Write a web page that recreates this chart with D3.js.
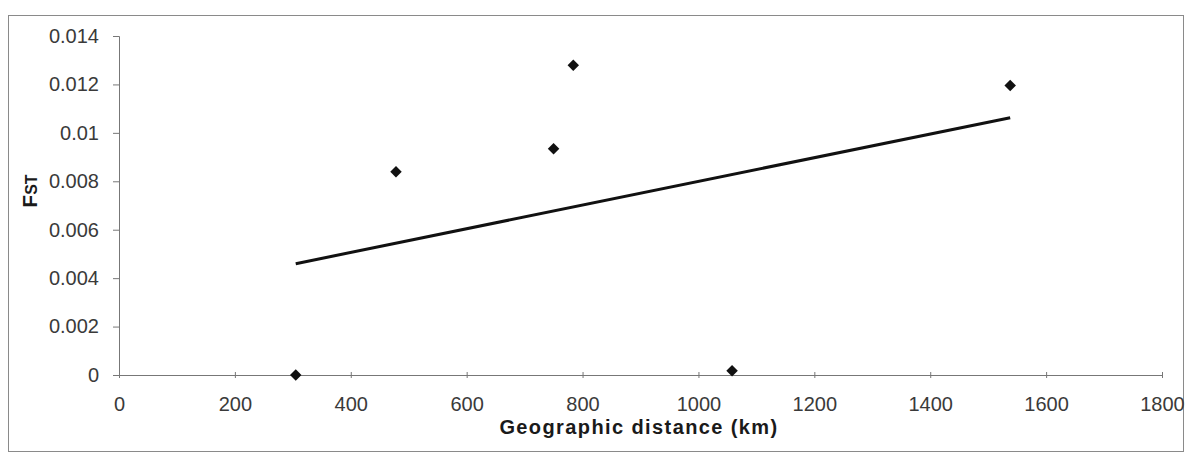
<!DOCTYPE html>
<html>
<head>
<meta charset="utf-8">
<script src="https://cdn.jsdelivr.net/npm/d3@7"></script>
<style>
  body { margin: 0; background: #fff; }
  svg text { font-family: "Liberation Sans", Arial, sans-serif; }
</style>
</head>
<body>
<script>
// distance (km) vs FST
var distances = [305, 478, 750, 784, 1058, 1538];
var fstValues = [0, 0.00839, 0.00934, 0.01279, 0.00018, 0.01196];
var xTicks = [0, 200, 400, 600, 800, 1000, 1200, 1400, 1600, 1800];
var yTicks = [0, 0.002, 0.004, 0.006, 0.008, 0.01, 0.012, 0.014];

var width = 1193,
    height = 453;

var svg = d3.select("body").append("svg")
            .attr("width", width)
            .attr("height", height);

// outer chart frame
svg.append("rect")
   .attr("x", 8.5).attr("y", 15.5)
   .attr("width", 1175).attr("height", 436)
   .attr("fill", "none")
   .attr("stroke", "#8a8a8a")
   .attr("stroke-width", 1);

var x = d3.scaleLinear().domain([0, 1800]).range([119, 1162]);
var y = d3.scaleLinear().domain([0, 0.014]).range([375, 36]);

// y axis
var yAxis = svg.append("g")
   .attr("transform", "translate(" + x(0) + ",0)")
   .call(d3.axisLeft(y).tickValues(yTicks).tickSize(6).tickPadding(14)
          .tickFormat(function(d) { return d === 0 ? "0" : String(+d.toFixed(3)); }));
yAxis.select(".domain").attr("stroke", "#777");
yAxis.selectAll(".tick line").attr("stroke", "#777");
yAxis.selectAll(".tick text")
     .attr("font-size", 20).attr("fill", "#3a3a3a")
     .style("font-family", "Liberation Sans, Arial, sans-serif");

// x axis
var xAxis = svg.append("g")
   .attr("transform", "translate(0," + y(0) + ")")
   .call(d3.axisBottom(x).tickValues(xTicks).tickFormat(d3.format("d"))
          .tickSizeInner(4).tickSizeOuter(0).tickPadding(18));
xAxis.select(".domain").attr("stroke", "#777");
xAxis.selectAll(".tick line").attr("stroke", "#777").attr("y1", -3).attr("y2", 3);
xAxis.selectAll(".tick text")
     .attr("font-size", 20).attr("fill", "#3a3a3a")
     .style("font-family", "Liberation Sans, Arial, sans-serif");

// linear trend line (least squares over the points)
var mx = d3.mean(distances), my = d3.mean(fstValues);
var sxy = d3.sum(distances, function(d, i) { return (d - mx) * (fstValues[i] - my); });
var sxx = d3.sum(distances, function(d) { return (d - mx) * (d - mx); });
var slope = sxy / sxx, intercept = my - slope * mx;
var xExtent = d3.extent(distances);

var line = d3.line()
   .x(function(d) { return x(d); })
   .y(function(d) { return y(intercept + slope * d); });

svg.append("path")
   .datum(xExtent)
   .attr("d", line)
   .attr("fill", "none")
   .attr("stroke", "#111")
   .attr("stroke-width", 3);

// diamond markers
var points = distances.map(function(d, i) { return { km: d, fst: fstValues[i] }; });
svg.selectAll(".pt")
   .data(points)
   .enter()
   .append("path")
   .attr("class", "pt")
   .attr("d", d3.symbol().type(d3.symbolSquare).size(66))
   .attr("transform", function(d) {
      return "translate(" + x(d.km) + "," + y(d.fst) + ") rotate(45)";
   })
   .attr("fill", "#111");

// axis titles
svg.append("text")
   .attr("x", 639).attr("y", 434)
   .attr("text-anchor", "middle")
   .attr("font-size", 20)
   .attr("font-weight", "bold")
   .attr("letter-spacing", 1.4)
   .attr("fill", "#1a1a1a")
   .text("Geographic distance (km)");

var yTitle = svg.append("text")
   .attr("transform", "translate(37,191) rotate(-90)")
   .attr("text-anchor", "middle")
   .attr("font-weight", "bold")
   .attr("fill", "#1a1a1a");
yTitle.append("tspan").attr("font-size", 21).text("F");
yTitle.append("tspan").attr("font-size", 16).text("ST");
</script>
</body>
</html>
